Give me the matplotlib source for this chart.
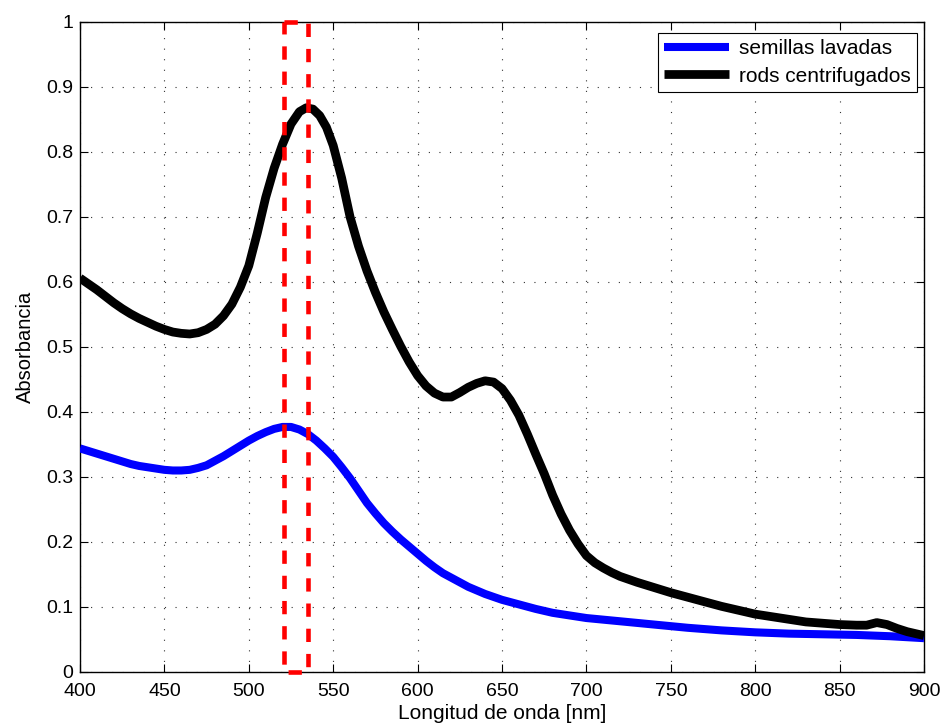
import matplotlib
matplotlib.use("Agg")
import matplotlib.pyplot as plt

plt.rcParams['font.family'] = ['Liberation Sans', 'DejaVu Sans']

# --- data ---
wl_rods = [400, 405, 410, 415, 420, 425, 430, 435, 440, 445, 450, 455, 460, 465,
           470, 475, 480, 485, 490, 495, 500, 505, 510, 515, 520, 525, 530, 534,
           538, 542, 546, 550, 555, 560, 565, 570, 575, 580, 585, 590, 595, 600,
           605, 610, 615, 620, 625, 630, 635, 640, 645, 650, 655, 660, 665, 670,
           675, 680, 685, 690, 695, 700, 705, 710, 715, 720, 730, 740, 750, 760,
           770, 780, 790, 800, 810, 820, 830, 840, 850, 860, 866, 872, 878, 884,
           890, 895, 900]
abs_rods = [0.606, 0.597, 0.588, 0.578, 0.568, 0.559, 0.551, 0.544, 0.538, 0.532,
            0.527, 0.523, 0.521, 0.520, 0.522, 0.527, 0.535, 0.548, 0.566, 0.592,
            0.625, 0.675, 0.730, 0.775, 0.812, 0.843, 0.862, 0.868, 0.866, 0.856,
            0.838, 0.810, 0.760, 0.700, 0.655, 0.617, 0.584, 0.554, 0.527, 0.501,
            0.477, 0.456, 0.440, 0.429, 0.423, 0.423, 0.430, 0.438, 0.444, 0.448,
            0.446, 0.436, 0.418, 0.395, 0.366, 0.335, 0.305, 0.272, 0.243, 0.218,
            0.197, 0.179, 0.168, 0.160, 0.153, 0.147, 0.138, 0.130, 0.122, 0.115,
            0.108, 0.101, 0.095, 0.089, 0.085, 0.081, 0.077, 0.075, 0.073, 0.072,
            0.072, 0.076, 0.073, 0.067, 0.062, 0.059, 0.056]

wl_seeds = [400, 405, 410, 415, 420, 425, 430, 435, 440, 445, 450, 455, 460, 465,
            470, 475, 480, 485, 490, 495, 500, 505, 510, 515, 520, 525, 530, 535,
            540, 545, 550, 555, 560, 565, 570, 575, 580, 585, 590, 595, 600, 605,
            610, 615, 620, 625, 630, 640, 650, 660, 670, 680, 690, 700, 720, 740,
            760, 780, 800, 820, 840, 860, 880, 900]
abs_seeds = [0.344, 0.340, 0.336, 0.332, 0.328, 0.324, 0.320, 0.317, 0.315, 0.313,
             0.311, 0.310, 0.310, 0.311, 0.314, 0.318, 0.325, 0.332, 0.340, 0.348,
             0.356, 0.363, 0.369, 0.374, 0.377, 0.377, 0.373, 0.366, 0.356, 0.344,
             0.331, 0.315, 0.298, 0.279, 0.260, 0.244, 0.229, 0.216, 0.204, 0.193,
             0.182, 0.171, 0.161, 0.152, 0.145, 0.138, 0.131, 0.120, 0.111, 0.104,
             0.097, 0.091, 0.087, 0.083, 0.078, 0.073, 0.068, 0.064, 0.061, 0.059,
             0.058, 0.057, 0.055, 0.052]

# rectangle marking the peak region (drawn from top-left corner, clockwise)
box_x = [521, 535, 535, 521, 521]
box_y = [1, 1, 0, 0, 1]

labels = ['semillas lavadas', 'rods centrifugados']
xticks = [400, 450, 500, 550, 600, 650, 700, 750, 800, 850, 900]
yticks = [0, 0.1, 0.2, 0.3, 0.4, 0.5, 0.6, 0.7, 0.8, 0.9, 1]
ytick_labels = ['0', '0.1', '0.2', '0.3', '0.4', '0.5', '0.6', '0.7', '0.8', '0.9', '1']

fig = plt.figure(figsize=(9.41, 7.26), dpi=100)
ax = fig.add_axes([0.085, 0.0744, 0.897, 0.8953])

ax.plot(wl_seeds, abs_seeds, color='#0000ff', lw=5.8, label=labels[0],
        solid_capstyle='butt', solid_joinstyle='round', zorder=3)
ax.plot(wl_rods, abs_rods, color='black', lw=6.3, label=labels[1],
        solid_capstyle='butt', solid_joinstyle='round', zorder=3)
ax.plot(box_x, box_y, color='#ff0000', lw=3.3, linestyle=(0, (2.9, 2.6)),
        zorder=4, clip_on=False)

ax.set_xlim(400, 900)
ax.set_ylim(0, 1)
ax.set_xticks(xticks)
ax.set_yticks(yticks)
ax.set_yticklabels(ytick_labels)
ax.tick_params(direction='in', length=6, width=0.8, top=True, right=True,
               labelsize=14)
ax.tick_params(axis='x', pad=8)
ax.tick_params(axis='y', pad=5)
for s in ax.spines.values():
    s.set_linewidth(1.0)

ax.grid(True, color='#333333', linestyle=(0, (1, 8.5)), linewidth=0.8)
ax.set_axisbelow(True)

ax.set_xlabel('Longitud de onda [nm]', fontsize=15, labelpad=3)
ax.set_ylabel('Absorbancia', fontsize=14.5, labelpad=8)

leg = ax.legend(loc='upper right', bbox_to_anchor=(0.992, 0.983),
                borderaxespad=0, fontsize=15, handlelength=3.1,
                fancybox=False, framealpha=1, edgecolor='black',
                borderpad=0.3, labelspacing=0.4, handletextpad=0.5)
leg.get_frame().set_linewidth(0.8)

fig.savefig('out.png', dpi=100)
